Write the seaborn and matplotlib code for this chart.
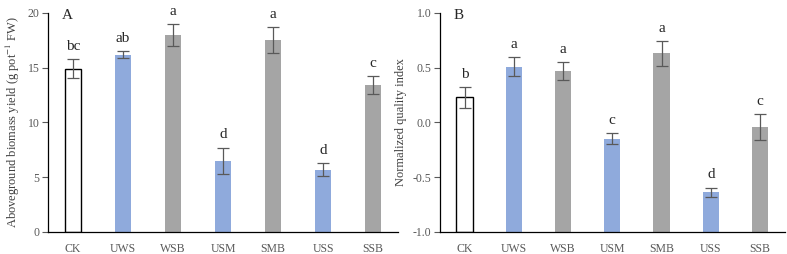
import matplotlib
matplotlib.use("Agg")
import matplotlib.pyplot as plt
import pandas as pd
import seaborn as sns

sns.set_theme(style="white")
plt.rcParams["font.family"] = ["Liberation Serif", "DejaVu Serif"]
plt.rcParams["mathtext.fontset"] = "stix"

TREATMENTS = ["CK", "UWS", "WSB", "USM", "SMB", "USS", "SSB"]
GROUPS = ["ck", "u", "b", "u", "b", "u", "b"]

YIELD = [14.9, 16.2, 18.0, 6.5, 17.5, 5.7, 13.4]
YIELD_ERR = [0.85, 0.28, 1.0, 1.2, 1.2, 0.6, 0.8]
YIELD_LETTERS = ["bc", "ab", "a", "d", "a", "d", "c"]

QUALITY = [0.23, 0.51, 0.47, -0.15, 0.63, -0.64, -0.04]
QUALITY_ERR = [0.096, 0.085, 0.085, 0.05, 0.11, 0.045, 0.12]
QUALITY_LETTERS = ["b", "a", "a", "c", "a", "d", "c"]

PALETTE = {"ck": "white", "u": "#8faadc", "b": "#a5a5a5"}
GRAY = "#595959"


def panel(ax, vals, errs, letters, ylim, yticks, ylabel, tag, fmt, base):
    df = pd.DataFrame({"treatment": TREATMENTS, "value": vals, "group": GROUPS})
    sns.barplot(data=df, x="treatment", y="value", hue="group", palette=PALETTE,
                width=0.33, legend=False, ax=ax, dodge=False, saturation=1)
    bars = [b for b in ax.patches if b.get_width() > 0]
    for bar in bars:
        top = bar.get_y() + bar.get_height()
        bar.set_y(base)
        bar.set_height(top - base)
    # CK is outlined only
    for bar, g in zip(sorted(bars, key=lambda b: b.get_x()), GROUPS):
        if g == "ck":
            bar.set_edgecolor("black")
            bar.set_linewidth(1.0)
        else:
            bar.set_edgecolor("none")
    xs = list(range(len(TREATMENTS)))
    ax.errorbar(xs, vals, yerr=errs, fmt="none", ecolor=GRAY, elinewidth=0.9,
                capsize=4, capthick=0.9)
    span = ylim[1] - ylim[0]
    for x, v, e, t in zip(xs, vals, errs, letters):
        ax.text(x, v + e + span * 0.028, t, ha="center", va="bottom", fontsize=11)
    ax.set_xlim(-0.5, len(TREATMENTS) - 0.5)
    ax.set_ylim(*ylim)
    ax.set_yticks(yticks)
    ax.set_yticklabels([fmt.format(t) for t in yticks])
    ax.set_xlabel("")
    ax.set_ylabel(ylabel, fontsize=9, color="#404040", labelpad=4)
    ax.tick_params(axis="y", left=True, length=4, width=0.8, color=GRAY,
                   labelsize=8.5, labelcolor=GRAY, pad=2)
    ax.tick_params(axis="x", bottom=False, labelsize=8.5, labelcolor=GRAY, pad=2)
    for s in ["top", "right"]:
        ax.spines[s].set_visible(False)
    for s in ["left", "bottom"]:
        ax.spines[s].set_color("black")
        ax.spines[s].set_linewidth(0.9)
    ax.text(0.04, 1.02, tag, transform=ax.transAxes, ha="left", va="top", fontsize=11)


fig = plt.figure(figsize=(7.87, 2.54), dpi=100)
ax1 = fig.add_axes([0.061, 0.087, 0.445, 0.862])
ax2 = fig.add_axes([0.559, 0.087, 0.438, 0.862])

panel(ax1, YIELD, YIELD_ERR, YIELD_LETTERS, (0, 20), [0, 5, 10, 15, 20],
      "Aboveground biomass yield (g pot$^{-1}$ FW)", "A", "{:.0f}", 0)
panel(ax2, QUALITY, QUALITY_ERR, QUALITY_LETTERS, (-1.0, 1.0), [-1.0, -0.5, 0.0, 0.5, 1.0],
      "Normalized quality index", "B", "{:.1f}", -1.0)

fig.savefig("out.png", dpi=100)
